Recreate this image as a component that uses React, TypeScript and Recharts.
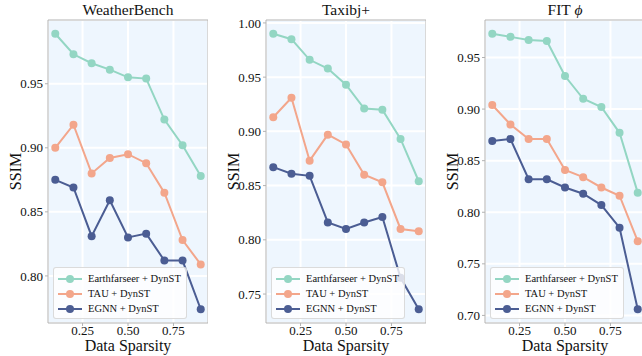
import React from 'react';
import { LineChart, Line, XAxis, YAxis, CartesianGrid, Legend, ReferenceArea, Label } from 'recharts';

// x values shared by all three panels
const sparsity = [0.1, 0.2, 0.3, 0.4, 0.5, 0.6, 0.7, 0.8, 0.9];
const xTicks = [0.25, 0.5, 0.75];

const seriesNames = ['Earthfarseer + DynST', 'TAU + DynST', 'EGNN + DynST'];
const seriesColors = ['#93d6c3', '#f3a68b', '#4b5d93'];

// WeatherBench
const weatherEarth = [0.989, 0.973, 0.966, 0.961, 0.955, 0.954, 0.922, 0.902, 0.878];
const weatherTau = [0.9, 0.918, 0.88, 0.892, 0.895, 0.888, 0.865, 0.828, 0.809];
const weatherEgnn = [0.875, 0.869, 0.831, 0.859, 0.83, 0.833, 0.812, 0.812, 0.774];
const weatherTicks = [0.8, 0.85, 0.9, 0.95];

// Taxibj+
const taxiEarth = [0.99, 0.985, 0.966, 0.958, 0.943, 0.921, 0.92, 0.893, 0.854];
const taxiTau = [0.913, 0.931, 0.873, 0.897, 0.888, 0.86, 0.853, 0.81, 0.808];
const taxiEgnn = [0.867, 0.861, 0.859, 0.816, 0.81, 0.816, 0.821, 0.765, 0.736];
const taxiTicks = [0.75, 0.8, 0.85, 0.9, 0.95, 1.0];

// FIT phi
const fitEarth = [0.973, 0.97, 0.967, 0.966, 0.932, 0.91, 0.902, 0.877, 0.819];
const fitTau = [0.904, 0.885, 0.871, 0.871, 0.841, 0.834, 0.824, 0.816, 0.772];
const fitEgnn = [0.869, 0.871, 0.832, 0.832, 0.824, 0.818, 0.807, 0.785, 0.706];
const fitTicks = [0.7, 0.75, 0.8, 0.85, 0.9, 0.95];

const FONT = '"Liberation Serif", "DejaVu Serif", serif';
const Y_W = 48;
const PLOT_W = 160;
const X_DOMAIN: [number, number] = [0.06, 0.94];

function buildRows(a: number[], b: number[], c: number[]) {
  return sparsity.map((x, i) => ({ x, s0: a[i], s1: b[i], s2: c[i] }));
}

// matplotlib-like 5% padding around the data
function padDomain(a: number[], b: number[], c: number[]): [number, number] {
  const all = [...a, ...b, ...c];
  const lo = Math.min(...all);
  const hi = Math.max(...all);
  const m = (hi - lo) * 0.05;
  return [lo - m, hi + m];
}

const panels = [
  { key: 'wb', title: <>WeatherBench</>, left: 0, rows: buildRows(weatherEarth, weatherTau, weatherEgnn), domain: padDomain(weatherEarth, weatherTau, weatherEgnn), ticks: weatherTicks },
  { key: 'tx', title: <>Taxibj+</>, left: 218, rows: buildRows(taxiEarth, taxiTau, taxiEgnn), domain: padDomain(taxiEarth, taxiTau, taxiEgnn), ticks: taxiTicks },
  { key: 'fit', title: <>FIT <i>ϕ</i></>, left: 437, rows: buildRows(fitEarth, fitTau, fitEgnn), domain: padDomain(fitEarth, fitTau, fitEgnn), ticks: fitTicks },
];

function LegendBox({ payload }: any) {
  // keep the plotting order, not alphabetical
  const items = [...(payload || [])].sort(
    (a: any, b: any) => seriesNames.indexOf(a.value) - seriesNames.indexOf(b.value)
  );
  return (
    <div
      style={{
        background: 'rgba(255,255,255,0.8)',
        border: '1px solid rgba(210,210,210,0.8)',
        borderRadius: 3,
        padding: '3px 0 2px 0',
        fontFamily: FONT,
        fontSize: 10.5,
        color: '#111',
        boxSizing: 'border-box',
        width: 134,
      }}
    >
      {items.map((p: any) => (
        <div key={p.value} style={{ display: 'flex', alignItems: 'center', height: 15 }}>
          <svg width={34} height={10} style={{ flex: 'none' }}>
            <line x1={4} x2={28} y1={5} y2={5} stroke={p.color} strokeWidth={2} />
            <circle cx={16} cy={5} r={4} fill={p.color} />
          </svg>
          <span>{p.value}</span>
        </div>
      ))}
    </div>
  );
}

function Panel({ p }: { p: (typeof panels)[number] }) {
  return (
    <div style={{ position: 'absolute', left: p.left, top: 0, width: Y_W + PLOT_W, height: 356, fontFamily: FONT }}>
      <div
        style={{
          position: 'absolute',
          left: Y_W,
          top: 0,
          width: PLOT_W,
          textAlign: 'center',
          fontSize: 15.5,
          lineHeight: '20px',
          color: '#111',
        }}
      >
        {p.title}
      </div>
      <LineChart
        width={Y_W + PLOT_W}
        height={356}
        data={p.rows}
        margin={{ top: 20, right: 0, bottom: 0, left: 0 }}
        style={{ fontFamily: FONT }}
      >
        <CartesianGrid fill="#eef6fe" stroke="#ffffff" strokeWidth={2} strokeDasharray="" />
        <XAxis
          dataKey="x"
          type="number"
          domain={X_DOMAIN}
          ticks={xTicks}
          allowDataOverflow
          height={33}
          tickSize={3}
          tickMargin={0}
          axisLine={false}
          tickLine={{ stroke: '#b3b3b3' }}
          tick={{ fontSize: 13, fill: '#111', fontFamily: FONT }}
          tickFormatter={(v: number) => v.toFixed(2)}
        >
          <Label value="Data Sparsity" position="insideBottom" offset={5} style={{ fontSize: 16, fill: '#111', fontFamily: FONT }} />
        </XAxis>
        <YAxis
          type="number"
          domain={p.domain}
          ticks={p.ticks}
          allowDataOverflow
          width={Y_W}
          tickSize={3}
          axisLine={false}
          tickLine={{ stroke: '#b3b3b3' }}
          tick={{ fontSize: 13, fill: '#111', fontFamily: FONT }}
          tickFormatter={(v: number) => v.toFixed(2)}
        >
          <Label value="SSIM" angle={-90} position="center" dx={-9} style={{ fontSize: 16, fill: '#111', fontFamily: FONT }} />
        </YAxis>
        <ReferenceArea
          x1={X_DOMAIN[0]}
          x2={X_DOMAIN[1]}
          y1={p.domain[0]}
          y2={p.domain[1]}
          fill="none"
          stroke="#b3b3b3"
          strokeWidth={1}
          ifOverflow="visible"
        />
        {seriesNames.map((name, i) => (
          <Line
            key={name}
            type="linear"
            dataKey={`s${i}`}
            name={name}
            stroke={seriesColors[i]}
            strokeWidth={2}
            dot={{ r: 4, fill: seriesColors[i], stroke: seriesColors[i], strokeWidth: 0 }}
            activeDot={false}
            isAnimationActive={false}
          />
        ))}
        <Legend
          layout="vertical"
          align="center"
          verticalAlign="middle"
          content={<LegendBox />}
          wrapperStyle={{ left: Y_W + 5, top: 267, width: 134, height: 50 }}
        />
      </LineChart>
    </div>
  );
}

export default function App() {
  return (
    <div style={{ position: 'fixed', left: 0, top: 0, width: 642, height: 356, overflow: 'hidden', background: '#fff', fontFamily: FONT }}>
      {panels.map((p) => (
        <Panel key={p.key} p={p} />
      ))}
    </div>
  );
}
